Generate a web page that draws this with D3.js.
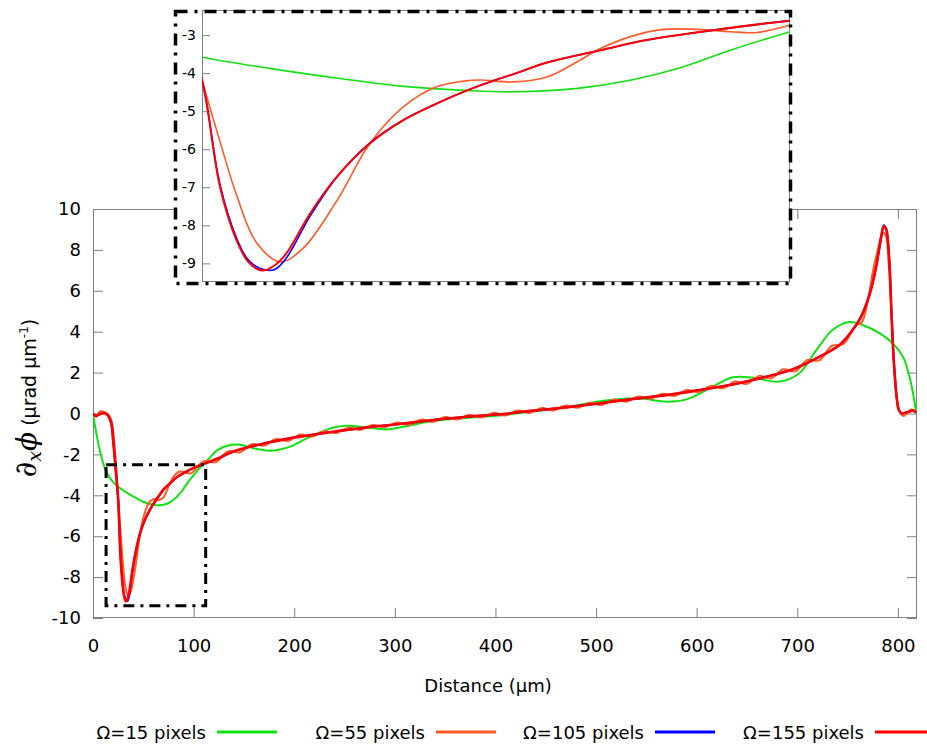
<!DOCTYPE html>
<html><head><meta charset="utf-8">
<script src="https://cdn.jsdelivr.net/npm/d3@7"></script>
<style>body{margin:0;background:#fff}</style>
</head><body>
<svg id="chart" width="927" height="748"></svg>
<script>
// ---------- data ----------
const x15 = [0,3.3,8.3,13.2,19,25,34,43,51,60,66,74,81,87.5,94,101.7,104.3,114,124,136,145,156,166,176,186,196,216,238,252,272,292,312,338,371,404,437,470,504,520,543,570,590,613,636,656,682,702,719,735,752,765,782,795,805,811.6,815,818.3];
const y15 = [0,-0.97,-2.11,-2.85,-3.3,-3.58,-3.88,-4.14,-4.34,-4.46,-4.49,-4.4,-4.18,-3.85,-3.39,-2.91,-2.76,-2.27,-1.78,-1.54,-1.52,-1.65,-1.76,-1.82,-1.76,-1.62,-1.13,-0.7,-0.6,-0.68,-0.77,-0.61,-0.36,-0.22,-0.1,0.1,0.3,0.6,0.69,0.74,0.58,0.69,1.23,1.77,1.75,1.56,1.97,3.1,4.08,4.47,4.33,3.92,3.43,2.78,1.8,1.0,0.0];

const x55 = [0,3,7,10,14,18,21.5,25,27.35,29.5,32.1,35.2,38.2,42.6,46.9,51.3,55.6,59.1,61.3,65.6,70,74.3,76.5,80.9,85.2,89.6,93.9,97.4,101.7,110,122,134,146,158,170,182,194,206,218,230,242,254,266,278,290,302,314,326,338,350,362,374,386,398,410,422,434,446,458,470,482,494,506,518,530,542,554,566,578,590,602,614,626,638,650,662,674,686,698,710,722,734,746,758,764,770,775,780,785,788,791,794,797,800,803,806,809,813,816,818];
const y55 = [0,-0.15,0.1,0.1,0.0,-0.3,-1.6,-4.18,-5.8,-7.2,-8.45,-8.96,-8.6,-7.35,-5.85,-4.88,-4.36,-4.21,-4.18,-4.23,-4.1,-3.66,-3.4,-3.04,-2.85,-2.85,-2.91,-2.93,-2.74,-2.33,-2.38,-1.85,-1.9,-1.5,-1.57,-1.25,-1.34,-1.03,-1.13,-0.87,-0.95,-0.7,-0.8,-0.56,-0.67,-0.44,-0.55,-0.3,-0.41,-0.17,-0.29,-0.06,-0.2,0.03,-0.1,0.15,0.03,0.27,0.15,0.39,0.28,0.53,0.42,0.68,0.58,0.83,0.72,0.97,0.86,1.15,1.04,1.35,1.23,1.56,1.45,1.84,1.72,2.16,2.06,2.62,2.6,3.3,3.4,4.3,4.45,5.5,6.9,8.0,8.85,8.7,7.2,4.6,1.8,0.4,-0.02,-0.12,0.0,0.2,0.15,0.05];

const x105 = [0,3,6,10,14,18,20,22.5,25,27.35,29.5,31,32.8,34.5,36,39.1,42.6,46.9,51.3,55.6,60,63,66,70,76.5,83,91.7,101.7,111,124,139,156,173,206,239,272,305,338,371,404,437,471,504,537,570,603,636,663,676,695,709,725,742,755,762,769,774,779,783,786,788.5,790,792,793.5,795,797,799,801,804,807,811,815,818];
const y105 = [0,-0.12,-0.05,0.02,-0.05,-0.45,-1.3,-2.7,-4.18,-6.93,-8.33,-8.9,-9.15,-9.16,-8.86,-7.76,-6.73,-5.83,-5.23,-4.8,-4.42,-4.2,-4.0,-3.72,-3.42,-3.13,-2.87,-2.62,-2.45,-2.2,-1.87,-1.63,-1.43,-1.13,-0.89,-0.68,-0.51,-0.32,-0.16,-0.04,0.14,0.3,0.5,0.71,0.9,1.15,1.42,1.72,1.88,2.15,2.45,2.85,3.35,4.08,4.6,5.39,6.2,7.34,8.5,9.2,9.0,8.48,7.0,5.06,3.4,1.8,0.7,0.17,0.0,0.04,0.08,0.15,0.04];

const x155 = [0,3,6,10,14,18,20,22.5,25,27.35,29.5,31,32.8,34.5,36,39.1,42.6,46.9,51.3,55.6,60,63,66,70,76.5,83,91.7,101.7,111,124,139,156,173,206,239,272,305,338,371,404,437,471,504,537,570,603,636,663,676,695,709,725,742,755,762,769,774,779,783,786,788.5,790,792,793.5,795,797,799,801,804,807,811,815,818];
const y155 = [0,-0.12,-0.05,0.02,-0.05,-0.45,-1.3,-2.7,-4.18,-6.99,-8.39,-8.95,-9.19,-9.05,-8.74,-7.69,-6.72,-5.85,-5.23,-4.8,-4.42,-4.2,-4.0,-3.72,-3.42,-3.13,-2.87,-2.62,-2.45,-2.2,-1.87,-1.63,-1.43,-1.13,-0.89,-0.68,-0.51,-0.32,-0.16,-0.04,0.14,0.3,0.5,0.71,0.9,1.15,1.42,1.72,1.88,2.15,2.45,2.85,3.35,4.08,4.6,5.39,6.2,7.34,8.5,9.17,9.0,8.48,7.0,5.06,3.4,1.8,0.7,0.17,0.0,0.04,0.08,0.15,0.04];

const seriesLabels = ["Ω=15 pixels","Ω=55 pixels","Ω=105 pixels","Ω=155 pixels"];
const seriesColors = ["#12e012","#ff5a28","#0000ff","#ff0000"];
const xTicks = [0,100,200,300,400,500,600,700,800];
const yTicks = [-10,-8,-6,-4,-2,0,2,4,6,8,10];
const insetTicks = [-3,-4,-5,-6,-7,-8,-9];
const zoomBoxX = [13,112];
const zoomBoxY = [-9.4,-2.5];
const insetXDomain = [25,101.7];
const insetYDomain = [-9.49,-2.34];

const series = [
  {xs:x15, ys:y15}, {xs:x55, ys:y55}, {xs:x105, ys:y105}, {xs:x155, ys:y155}
].map((s,i)=>({label:seriesLabels[i], color:seriesColors[i], pts:s.xs.map((v,j)=>[v,s.ys[j]])}));

// ---------- main chart ----------
const svg = d3.select("#chart");
const FONT = "DejaVu Sans, sans-serif";
const L=93, R=917, T=209, B=618;
const x = d3.scaleLinear().domain([0,819]).range([L,R]);
const y = d3.scaleLinear().domain([-10,10]).range([B,T]);
const gray = "#808080";
const fmt = d => String(d);

svg.append("defs").append("clipPath").attr("id","mainClip")
  .append("rect").attr("x",L).attr("y",T).attr("width",R-L).attr("height",B-T);

function styleAxis(g, fs){
  g.select(".domain").remove();
  g.selectAll(".tick line").attr("stroke",gray).attr("stroke-width",1);
  g.selectAll(".tick text").attr("fill","#000").style("font-family",FONT).style("font-size",fs+"px");
}
svg.append("g").attr("transform",`translate(0,${B})`)
  .call(d3.axisBottom(x).tickValues(xTicks).tickSize(-10).tickPadding(21).tickFormat(fmt))
  .call(g=>styleAxis(g,18));
svg.append("g").attr("transform",`translate(0,${T})`)
  .call(d3.axisTop(x).tickValues(xTicks).tickSize(-10).tickFormat(""))
  .call(g=>styleAxis(g,18));
svg.append("g").attr("transform",`translate(${L},0)`)
  .call(d3.axisLeft(y).tickValues(yTicks).tickSize(-10).tickPadding(12).tickFormat(fmt))
  .call(g=>styleAxis(g,18));
svg.append("g").attr("transform",`translate(${R},0)`)
  .call(d3.axisRight(y).tickValues(yTicks).tickSize(-10).tickFormat(""))
  .call(g=>styleAxis(g,18));
svg.append("rect").attr("x",L+0.5).attr("y",T+0.5).attr("width",R-L-1).attr("height",B-T-1)
  .attr("fill","none").attr("stroke",gray).attr("stroke-width",1);

const curve = d3.curveCatmullRom.alpha(0.5);
const line = d3.line().x(d=>x(d[0])).y(d=>y(d[1])).curve(curve);
const widths = [2,2,2,2.6];
svg.append("g").attr("clip-path","url(#mainClip)")
  .selectAll("path").data(series).join("path")
  .attr("d",d=>line(d.pts)).attr("fill","none")
  .attr("stroke",d=>d.color).attr("stroke-width",(d,i)=>widths[i])
  .attr("stroke-linejoin","round");

// zoom box in main plot
svg.append("rect")
  .attr("x",x(zoomBoxX[0])).attr("y",y(zoomBoxY[1]))
  .attr("width",x(zoomBoxX[1])-x(zoomBoxX[0])).attr("height",y(zoomBoxY[0])-y(zoomBoxY[1]))
  .attr("fill","none").attr("stroke","#000").attr("stroke-width",3)
  .attr("stroke-dasharray","11,6,3,6");

// axis titles
svg.append("text").attr("x",(L+R)/2-17).attr("y",692).attr("text-anchor","middle")
  .style("font-family",FONT).style("font-size","18px").text("Distance (µm)");

const yl = svg.append("text").attr("transform","translate(36,398) rotate(-90)")
  .attr("text-anchor","middle").style("font-family",FONT).style("font-size","19px");
const MATH = "DejaVu Serif, serif";
yl.append("tspan").style("font-family",MATH).style("font-style","italic").style("font-size","30px").text("∂");
yl.append("tspan").style("font-family",MATH).style("font-style","italic").style("font-size","19px").attr("dy",5).text("x");
yl.append("tspan").style("font-family",MATH).style("font-style","italic").style("font-size","28px").attr("dy",-5).text("ϕ");
yl.append("tspan").text(" (µrad µm");
yl.append("tspan").style("font-size","12px").attr("dy",-8).text("-1");
yl.append("tspan").attr("dy",8).text(")");

// legend
const legendEnds = [206,425,644,864];
const lg = svg.append("g");
series.forEach((s,i)=>{
  lg.append("text").attr("x",legendEnds[i]).attr("y",739).attr("text-anchor","end")
    .style("font-family",FONT).style("font-size","18px").text(s.label);
  lg.append("line").attr("x1",legendEnds[i]+11).attr("x2",legendEnds[i]+71)
    .attr("y1",732).attr("y2",732).attr("stroke",s.color).attr("stroke-width",3);
});

// ---------- inset ----------
const iL=202, iR=790, iT=10, iB=282;
const xi = d3.scaleLinear().domain(insetXDomain).range([iL,iR]);
const yi = d3.scaleLinear().domain(insetYDomain).range([iB,iT]);
svg.append("rect").attr("x",175).attr("y",10).attr("width",617).attr("height",274).attr("fill","#fff");
svg.select("defs").append("clipPath").attr("id","insetClip")
  .append("rect").attr("x",iL).attr("y",iT).attr("width",iR-iL).attr("height",iB-iT);
svg.append("g").attr("transform",`translate(${iL},0)`)
  .call(d3.axisLeft(yi).tickValues(insetTicks).tickSize(-8).tickPadding(6).tickFormat(fmt))
  .call(g=>styleAxis(g,14));
svg.append("rect").attr("x",iL+0.5).attr("y",iT+0.5).attr("width",iR-iL-1).attr("height",iB-iT-1)
  .attr("fill","none").attr("stroke",gray).attr("stroke-width",1);
const lineI = d3.line().x(d=>xi(d[0])).y(d=>yi(d[1])).curve(curve);
svg.append("g").attr("clip-path","url(#insetClip)")
  .selectAll("path").data(series).join("path")
  .attr("d",d=>lineI(d.pts)).attr("fill","none")
  .attr("stroke",d=>d.color).attr("stroke-width",(d,i)=>i===3?2:1.6);
svg.append("rect").attr("x",175.5).attr("y",11.5).attr("width",615).attr("height",272)
  .attr("fill","none").attr("stroke","#000").attr("stroke-width",3.5)
  .attr("stroke-dasharray","12,7,3,7");
</script>
</body></html>
